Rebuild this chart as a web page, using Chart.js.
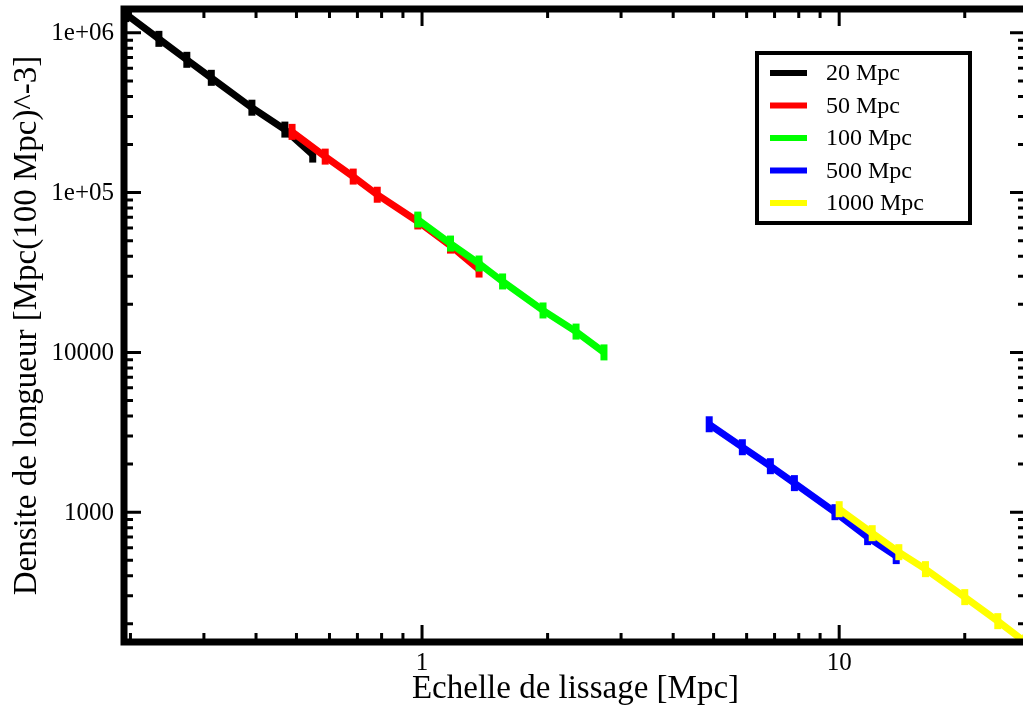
<!DOCTYPE html>
<html>
<head>
<meta charset="utf-8">
<script src="https://cdn.jsdelivr.net/npm/chart.js@4"></script>
<style>
  html, body { margin: 0; padding: 0; background: #fff; overflow: hidden; }
</style>
</head>
<body>
<canvas id="c" width="1030" height="711"></canvas>
<script>
// series: smoothing scale [Mpc] vs length density, one per box size
const labels = ['20 Mpc', '50 Mpc', '100 Mpc', '500 Mpc', '1000 Mpc'];
const colors = ['#000000', '#ff0000', '#00ff00', '#0000ff', '#ffff00'];

const x20 = [0.195, 0.234, 0.273, 0.3125, 0.391, 0.469, 0.547];
const y20 = [1310000, 917000, 678000, 523000, 340000, 248000, 173000];

const x50 = [0.488, 0.586, 0.684, 0.781, 0.977, 1.17, 1.37];
const y50 = [240000, 168000, 126000, 97000, 66000, 46600, 33000];

const x100 = [0.977, 1.17, 1.37, 1.56, 1.95, 2.34, 2.73];
const y100 = [67800, 48000, 36000, 27800, 18300, 13500, 10000];

const x500 = [4.88, 5.86, 6.84, 7.81, 9.77, 11.7, 13.7];
const y500 = [3550, 2550, 1940, 1520, 1000, 698, 531];

const x1000 = [10.0, 12.0, 13.9, 16.1, 20.0, 24.0, 28.0];
const y1000 = [1044, 739, 562, 440, 294, 208, 153];

// axis ticks
const xTicks = [1, 10];
const xTickLabels = ['1', '10'];
const yTicks = [1000, 10000, 100000, 1000000];
const yTickLabels = ['1000', '10000', '1e+05', '1e+06'];

const xs = [x20, x50, x100, x500, x1000];
const ys = [y20, y50, y100, y500, y1000];

const serif = "'Liberation Serif', 'DejaVu Serif', serif";

const datasets = labels.map((lab, i) => ({
  label: lab,
  data: xs[i].map((x, j) => ({ x: x, y: ys[i][j] })),
  borderColor: colors[i],
  backgroundColor: colors[i],
  borderWidth: 7,
  pointStyle: 'line',
  rotation: 90,
  pointRadius: 8,
  pointBorderWidth: 7,
  pointBorderColor: colors[i],
  tension: 0,
  order: labels.length - i
}));

// frame, inward ticks on all four sides, tick labels and the boxed legend
const framePlugin = {
  id: 'frame',
  afterDraw(chart) {
    const { ctx, chartArea: a, scales } = chart;
    const sx = scales.x, sy = scales.y;
    ctx.save();
    ctx.strokeStyle = '#000';
    ctx.lineWidth = 3;
    for (let d = 0.1; d < 100; d *= 10) {
      for (let k = 1; k < 10; k++) {
        const v = d * k;
        if (v < sx.min || v > sx.max) continue;
        const px = sx.getPixelForValue(v);
        const len = k === 1 ? 17 : 9;
        ctx.beginPath();
        ctx.moveTo(px, a.bottom); ctx.lineTo(px, a.bottom - len);
        ctx.moveTo(px, a.top); ctx.lineTo(px, a.top + len);
        ctx.stroke();
      }
    }
    for (let d = 100; d < 1e7; d *= 10) {
      for (let k = 1; k < 10; k++) {
        const v = d * k;
        if (v < sy.min || v > sy.max) continue;
        const py = sy.getPixelForValue(v);
        const len = k === 1 ? 17 : 9;
        ctx.beginPath();
        ctx.moveTo(a.left, py); ctx.lineTo(a.left + len, py);
        ctx.moveTo(a.right, py); ctx.lineTo(a.right - len, py);
        ctx.stroke();
      }
    }
    ctx.lineWidth = 7;
    ctx.strokeRect(a.left, a.top, a.right - a.left, a.bottom - a.top);

    // tick labels
    ctx.fillStyle = '#000';
    ctx.font = '25px ' + serif;
    ctx.textAlign = 'right';
    ctx.textBaseline = 'middle';
    yTicks.forEach((v, i) => ctx.fillText(yTickLabels[i], a.left - 10, sy.getPixelForValue(v) + 1));
    ctx.textAlign = 'center';
    ctx.textBaseline = 'top';
    xTicks.forEach((v, i) => ctx.fillText(xTickLabels[i], sx.getPixelForValue(v), a.bottom + 9));

    // legend
    const bx = 757, by = 53, bw = 213, bh = 170;
    ctx.fillStyle = '#fff';
    ctx.fillRect(bx, by, bw, bh);
    ctx.lineWidth = 4;
    ctx.strokeRect(bx, by, bw, bh);
    ctx.font = '24px ' + serif;
    ctx.textAlign = 'left';
    ctx.textBaseline = 'middle';
    chart.data.datasets.forEach((ds, i) => {
      const yy = 73 + i * 32.5;
      ctx.strokeStyle = ds.borderColor;
      ctx.lineWidth = 6;
      ctx.beginPath();
      ctx.moveTo(770, yy); ctx.lineTo(807, yy);
      ctx.stroke();
      ctx.fillStyle = '#000';
      ctx.fillText(ds.label, 826, yy + 1);
    });
    ctx.restore();
  }
};

new Chart(document.getElementById('c'), {
  type: 'line',
  data: { datasets: datasets },
  options: {
    responsive: false,
    animation: false,
    devicePixelRatio: 1,
    layout: { autoPadding: false, padding: { top: 9, right: 3, left: 0, bottom: 0 } },
    plugins: { legend: { display: false }, tooltip: { enabled: false } },
    scales: {
      x: {
        type: 'logarithmic',
        min: 0.193,
        max: 28.2,
        grid: { display: false, drawTicks: false },
        border: { display: false },
        ticks: { display: false },
        afterFit: (axis) => { axis.height = 69; },
        title: {
          display: true,
          text: 'Echelle de lissage [Mpc]',
          color: '#000',
          font: { family: serif, size: 33 },
          padding: { top: 0, bottom: 2 }
        }
      },
      y: {
        type: 'logarithmic',
        min: 154,
        max: 1410000,
        grid: { display: false, drawTicks: false },
        border: { display: false },
        ticks: { display: false },
        afterFit: (axis) => { axis.width = 124; },
        title: {
          display: true,
          text: 'Densite de longueur [Mpc(100 Mpc)^-3]',
          color: '#000',
          font: { family: serif, size: 33 },
          padding: { top: 8, bottom: 0 }
        }
      }
    }
  },
  plugins: [framePlugin]
});
</script>
</body>
</html>
